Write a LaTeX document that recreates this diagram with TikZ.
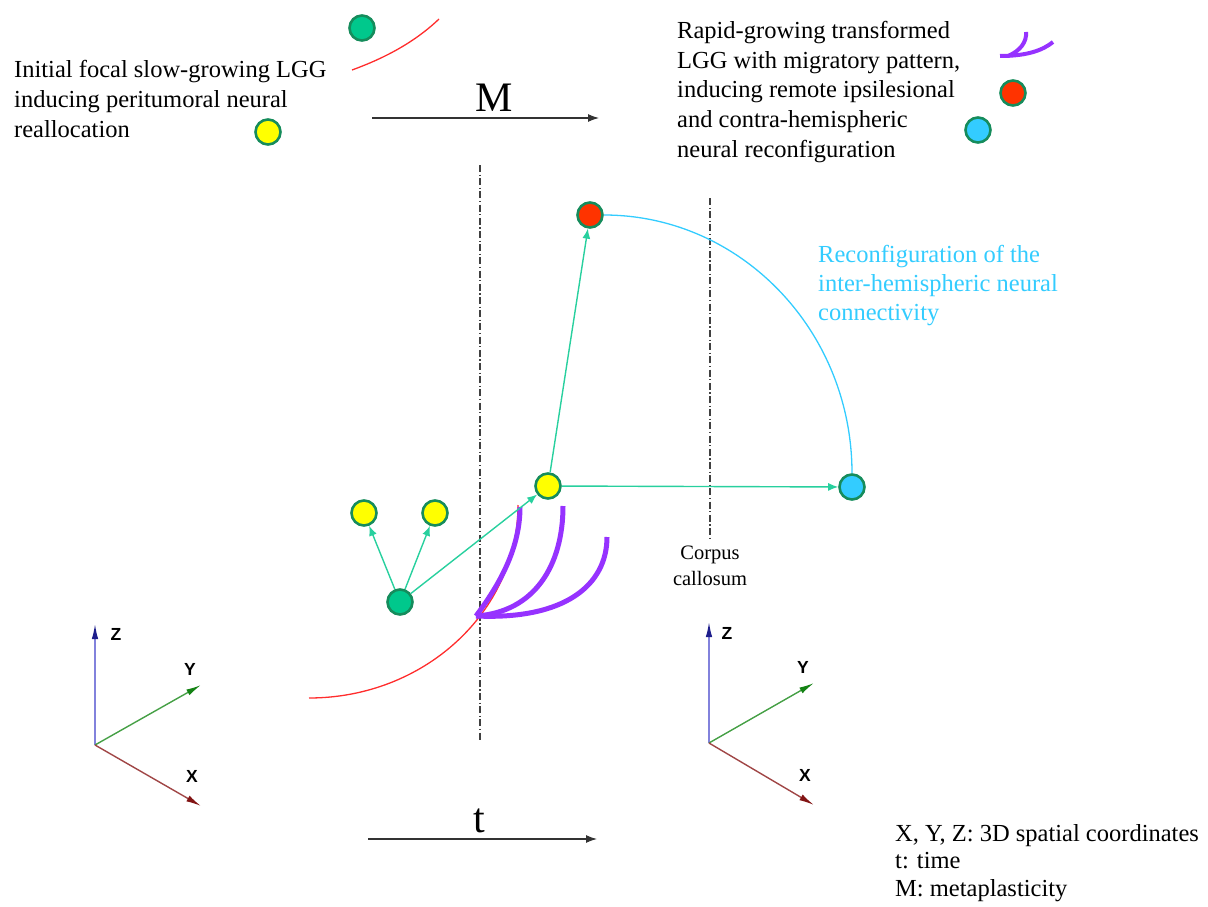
\documentclass[tikz,border=0pt]{standalone}
\usepackage{fontspec}
\setmainfont{Liberation Serif}
\newfontfamily\axfont{Liberation Sans}
\usetikzlibrary{arrows.meta}
\definecolor{cteal}{RGB}{40,208,158}
\definecolor{cborder}{RGB}{22,140,92}
\definecolor{cgreen}{RGB}{0,200,140}
\definecolor{cyellow}{RGB}{255,255,0}
\definecolor{cred}{RGB}{255,51,0}
\definecolor{cblue}{RGB}{51,204,255}
\definecolor{cpurple}{RGB}{150,50,255}
\definecolor{credline}{RGB}{255,45,45}
\definecolor{zshaft}{RGB}{130,130,220}
\definecolor{zhead}{RGB}{30,30,140}
\definecolor{yshaft}{RGB}{70,160,70}
\definecolor{yhead}{RGB}{20,130,20}
\definecolor{xshaft}{RGB}{160,70,70}
\definecolor{xhead}{RGB}{130,20,20}
\tikzset{
  neuron/.style={circle, draw=cborder, line width=2.6pt, minimum size=25pt, inner sep=0pt},
  conn/.style={draw=cteal, line width=1.4pt, -{Latex[length=10pt,width=8pt]}},
  bigtext/.style={font=\fontsize{24.5}{29.6}\selectfont, align=left, inner sep=0pt, anchor=base west},
  purp/.style={draw=cpurple, line width=5pt},
  redline/.style={draw=credline, line width=1.3pt},
  ddline/.style={draw=black!75, line width=1.2pt, dash pattern=on 7pt off 2.5pt on 1.2pt off 2.5pt},
  blackarrow/.style={draw=black!80, line width=1.1pt, -{Latex[length=11pt,width=8pt]}},
  axlabel/.style={font=\axfont\bfseries\fontsize{17.5}{19}\selectfont, inner sep=0pt},
}
\begin{document}
\begin{tikzpicture}[x=1pt,y=-1pt]
\useasboundingbox (0,0) rectangle (1208,907);

% ---------- top-left legend ----------
\node[neuron, fill=cgreen] (lg) at (362,28) {};
\draw[redline] (352,70) .. controls (385,58) and (415,42) .. (439,19);
\node[neuron, fill=cyellow] (ly) at (268,132) {};
\node[bigtext] (t1) at (14,137) {Initial focal slow-growing LGG\\inducing peritumoral neural\\reallocation};

% ---------- M arrow ----------
\coordinate (m1) at (372,118);
\coordinate (m2) at (599,118);
\draw[blackarrow] (m1) -- (m2);
\node[font=\fontsize{42}{44}\selectfont, inner sep=0pt, anchor=base] (mlab) at (494,111) {M};

% ---------- top-right legend ----------
\node[bigtext] (t2) at (677,157) {Rapid-growing transformed\\LGG with migratory pattern,\\inducing remote ipsilesional\\and contra-hemispheric\\neural reconfiguration};
\draw[purp, line width=4pt] (1000,56) .. controls (1028,56) and (1043,50) .. (1053,42);
\draw[purp, line width=4pt] (1026,32) .. controls (1027,42) and (1020,51) .. (1008,56);
\node[neuron, fill=cred] (lr) at (1013,93) {};
\node[neuron, fill=cblue] (lb) at (978,130) {};

% ---------- midline dash-dot lines ----------
\draw[ddline] (480,165) -- (480,740);
\draw[ddline] (710,198) -- (710,538);
\node[font=\fontsize{20.5}{26}\selectfont, align=center, inner sep=0pt] (cc) at (710,566) {Corpus\\callosum};

% ---------- red tumour front ----------
\draw[redline] (309,698) .. controls (424,698) and (518,612) .. (518,505);

% ---------- purple migration ----------
\draw[purp] (476,616) .. controls (503,580) and (520,545) .. (520,507);
\draw[purp] (476,616) .. controls (535,612) and (563,565) .. (563,506);
\draw[purp] (476,616) .. controls (565,620) and (607,585) .. (607,537);

% ---------- neurons ----------
\node[neuron, fill=cgreen] (g) at (400,602) {};
\node[neuron, fill=cyellow] (y1) at (364,513) {};
\node[neuron, fill=cyellow] (y2) at (435,513) {};
\node[neuron, fill=cyellow] (ym) at (548,486) {};
\node[neuron, fill=cred] (r) at (590,215) {};
\node[neuron, fill=cblue] (b) at (852,487) {};

\draw[conn] (g) -- (y1);
\draw[conn] (g) -- (y2);
\draw[conn] (g) -- (ym);
\draw[conn] (ym) -- (r);
\draw[conn] (ym) -- (b);
\draw[draw=cblue, line width=1.3pt] (r.east) .. controls (741,215) and (852,331) .. (b.north);

\node[bigtext, text=cblue, font=\fontsize{24.5}{29}\selectfont] (t3) at (818,320) {Reconfiguration of the\\inter-hemispheric neural\\connectivity};

% ---------- axes left ----------
\coordinate (o1) at (95,745);
\coordinate (z1) at (95,624);
\coordinate (ya1) at (201,685);
\coordinate (xa1) at (201,806);
\draw[draw=zshaft, line width=1.4pt, -{Latex[length=15pt,width=6.5pt,color=zhead]}] (o1) -- (z1);
\draw[draw=yshaft, line width=1.4pt, -{Latex[length=15pt,width=6.5pt,color=yhead]}] (o1) -- (ya1);
\draw[draw=xshaft, line width=1.4pt, -{Latex[length=15pt,width=6.5pt,color=xhead]}] (o1) -- (xa1);
\node[axlabel] (zl1) at (116,634) {Z};
\node[axlabel] (yl1) at (190,669) {Y};
\node[axlabel] (xl1) at (192,776) {X};

% ---------- axes right ----------
\coordinate (o2) at (709,743);
\coordinate (z2) at (709,622);
\coordinate (ya2) at (814,683);
\coordinate (xa2) at (814,805);
\draw[draw=zshaft, line width=1.4pt, -{Latex[length=15pt,width=6.5pt,color=zhead]}] (o2) -- (z2);
\draw[draw=yshaft, line width=1.4pt, -{Latex[length=15pt,width=6.5pt,color=yhead]}] (o2) -- (ya2);
\draw[draw=xshaft, line width=1.4pt, -{Latex[length=15pt,width=6.5pt,color=xhead]}] (o2) -- (xa2);
\node[axlabel] (zl2) at (727,633) {Z};
\node[axlabel] (yl2) at (803,667) {Y};
\node[axlabel] (xl2) at (805,775) {X};

% ---------- t arrow ----------
\coordinate (t1a) at (368,839);
\coordinate (t2a) at (597,839);
\draw[blackarrow] (t1a) -- (t2a);
\node[font=\fontsize{42}{44}\selectfont, inner sep=0pt, anchor=base] (tlab) at (479,832) {t};

% ---------- bottom-right legend ----------
\node[bigtext, font=\fontsize{24.5}{27.5}\selectfont] (t4) at (895,896) {X, Y, Z: 3D spatial coordinates\\t: time\\M: metaplasticity};
\end{tikzpicture}
\end{document}
